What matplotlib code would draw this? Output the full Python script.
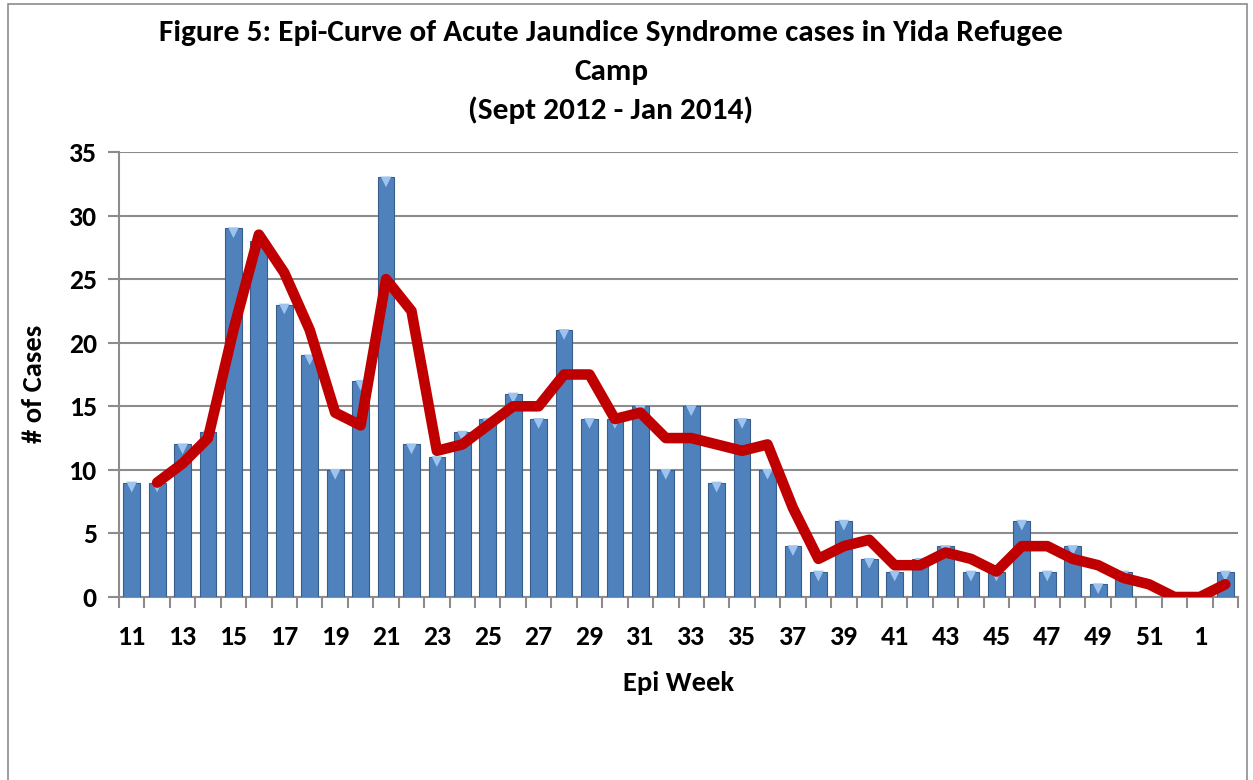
import matplotlib
matplotlib.use("Agg")
import matplotlib.pyplot as plt
import numpy as np
from matplotlib.patches import Rectangle

plt.rcParams["font.family"] = ["Carlito", "Lato", "DejaVu Sans"]

# epi weeks: 11..52 of 2013, then 1..2 of 2014
weeks = [str(w) for w in range(11, 53)] + ["1", "2"]
cases = [9, 9, 12, 13, 29, 28, 23, 19, 10, 17,
         33, 12, 11, 13, 14, 16, 14, 21, 14, 14,
         15, 10, 15, 9, 14, 10, 4, 2, 6, 3,
         2, 3, 4, 2, 2, 6, 2, 4, 1, 2,
         0, 0, 0, 2]
# 2-period moving average trend line (starts at week 12)
trend = [None, 9, 10.5, 12.5, 21, 28.5, 25.5, 21, 14.5, 13.5,
         25, 22.5, 11.5, 12, 13.5, 15, 15, 17.5, 17.5, 14,
         14.5, 12.5, 12.5, 12, 11.5, 12, 7, 3, 4, 4.5,
         2.5, 2.5, 3.5, 3, 2, 4, 4, 3, 2.5, 1.5,
         1, 0, 0, 1]
y_ticks = [0, 5, 10, 15, 20, 25, 30, 35]

title_lines = ["Figure 5: Epi-Curve of Acute Jaundice Syndrome cases in Yida Refugee",
               "Camp",
               "(Sept 2012 - Jan 2014)"]

W, H = 1253, 780
fig = plt.figure(figsize=(W / 100, H / 100), dpi=100)
fig.patches.append(Rectangle((8 / W, -0.01), 1239 / W, 1.0 - 4 / H + 0.01, transform=fig.transFigure,
                             fill=False, edgecolor="#8c8c8c", linewidth=1.2))
ax = fig.add_axes([119 / W, 1 - 597 / H, 1119 / W, 445 / H])

x = np.arange(len(weeks))
ax.bar(x, cases, width=0.66, color="#4F81BD", edgecolor="#385D8A", linewidth=0.8, zorder=3)
nz = [i for i, c in enumerate(cases) if c > 0]
ax.scatter(x[nz], np.array(cases)[nz] - 0.35, marker="v", s=60, color="#9DC3F0",
           edgecolors="none", zorder=4)

tx = [i for i, t in enumerate(trend) if t is not None]
ty = [t for t in trend if t is not None]
ax.plot(tx, ty, color="#C00000", lw=7.6, solid_joinstyle="round", solid_capstyle="round", zorder=5)

ax.set_xlim(-0.5, len(weeks) - 0.5)
ax.set_ylim(0, 35)
ax.set_yticks(y_ticks)
ax.set_yticklabels([str(v) for v in y_ticks], fontsize=20, fontweight="bold")
ax.set_xticks(x[::2])
ax.set_xticklabels(weeks[::2], fontsize=20, fontweight="bold")
ax.set_xticks(np.arange(-0.5, len(weeks)), minor=True)
ax.tick_params(axis="x", which="major", length=0, pad=20)
ax.tick_params(axis="x", which="minor", length=8, width=1.5, color="#8c8c8c")
ax.tick_params(axis="y", length=8, width=1.5, color="#8c8c8c", pad=8)

ax.grid(True, axis="y", color="#8c8c8c", linewidth=1.5, zorder=0)
ax.set_axisbelow(True)
for s in ["top", "right"]:
    ax.spines[s].set_visible(False)
for s in ["left", "bottom"]:
    ax.spines[s].set_color("#8c8c8c")
    ax.spines[s].set_linewidth(1.5)

ax.set_xlabel("Epi Week", fontsize=20.5, fontweight="bold")
ax.xaxis.set_label_coords(0.5, -(671 - 597) / 445)
ax.set_ylabel("# of Cases", fontsize=20.5, fontweight="bold")
ax.yaxis.set_label_coords(-(119 - 46) / 1119, 0.48)

for yc, line in zip([33, 72, 110], title_lines):
    fig.text(611 / W, 1 - yc / H, line, ha="center", va="center", fontsize=22.5, fontweight="bold")

fig.savefig("out.png", dpi=100)
